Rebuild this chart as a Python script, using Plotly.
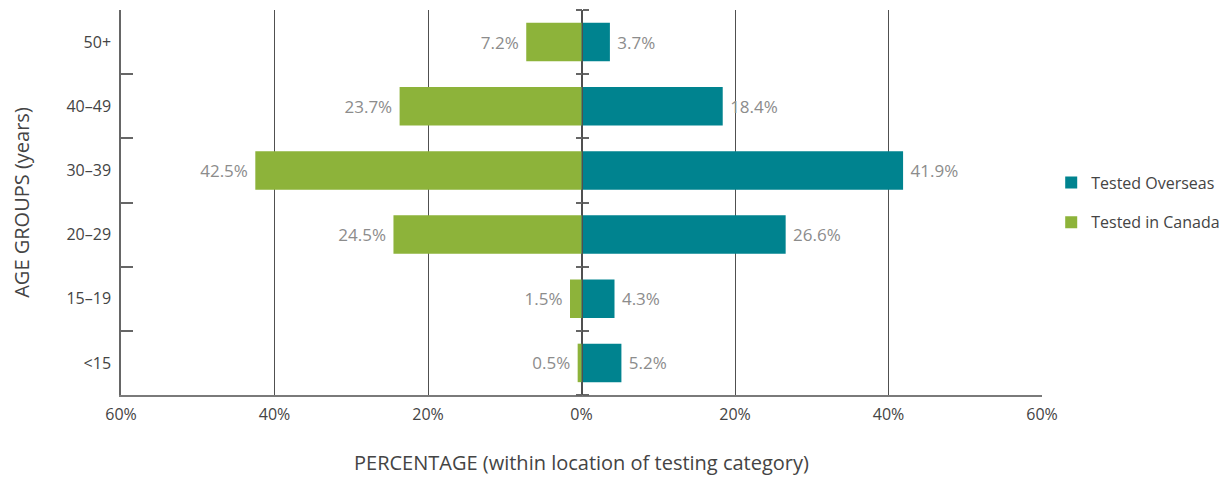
import plotly.graph_objects as go

# age groups, bottom to top
age_groups = ['<15', '15–19', '20–29', '30–39', '40–49', '50+']
tested_overseas = [5.2, 4.3, 26.6, 41.9, 18.4, 3.7]
tested_in_canada = [0.5, 1.5, 24.5, 42.5, 23.7, 7.2]

x_ticks = [-60, -40, -20, 0, 20, 40, 60]
x_tick_text = ['60%', '40%', '20%', '0%', '20%', '40%', '60%']

teal = '#00838f'
green = '#8db33a'
grid = '#505050'
font_name = 'Open Sans'
nbsp = '\u00a0'

fig = go.Figure()

fig.add_trace(go.Bar(
    y=age_groups, x=tested_overseas, orientation='h', name='Tested Overseas',
    legendgroup='overseas',
    marker=dict(color=teal, line=dict(width=0)),
    text=[f'{nbsp}{v}%' for v in tested_overseas], textposition='outside',
    textfont=dict(color='#8c8c8c', size=17, family=font_name), cliponaxis=False,
))
fig.add_trace(go.Bar(
    y=age_groups, x=[-v for v in tested_in_canada], orientation='h', name='Tested in Canada',
    legendgroup='canada',
    marker=dict(color=green, line=dict(width=0)),
    text=[f'{v}%{nbsp}' for v in tested_in_canada], textposition='outside',
    textfont=dict(color='#8c8c8c', size=17, family=font_name), cliponaxis=False,
))
# invisible helpers so the axes at zero get drawn
for ax in ['y2', 'y3']:
    fig.add_trace(go.Scatter(
        y=age_groups, x=[0] * len(age_groups), yaxis=ax, mode='none',
        showlegend=False, hoverinfo='skip',
    ))

zero_axis = dict(
    type='category', categoryarray=age_groups, range=[-0.5, len(age_groups) - 0.5],
    overlaying='y', anchor='free', position=0.5, tickson='boundaries',
    showticklabels=False, ticks='outside', ticklen=6, tickcolor='#666666', tickwidth=1.5,
    showgrid=False, zeroline=False, layer='above traces', automargin=False,
)

# page body has an 8px margin, so the figure is 8px smaller than the window
fig.update_layout(
    width=1221, height=469,
    margin=dict(l=113, r=187, t=2, b=82),
    paper_bgcolor='white', plot_bgcolor='white',
    barmode='overlay', bargap=0.4,
    font=dict(family=font_name, color='#444444', size=16),
    xaxis=dict(
        range=[-60, 60], tickvals=x_ticks, ticktext=x_tick_text,
        showgrid=True, gridcolor=grid, gridwidth=1, zeroline=False,
        showline=True, linecolor='#7a7a7a', linewidth=1.5, ticks='',
        tickfont=dict(size=16, color='#444444'), ticklabelstandoff=4, automargin=False,
        title=dict(text='PERCENTAGE (within location of testing category)',
                   font=dict(size=20, color='#444444'), standoff=32),
    ),
    yaxis=dict(
        type='category', categoryarray=age_groups, range=[-0.5, len(age_groups) - 0.5],
        tickson='boundaries', ticks='inside', ticklen=12, tickcolor='#666666', tickwidth=1.5,
        showline=True, linecolor='#666666', linewidth=1.5, showgrid=False,
        tickfont=dict(size=16, color='#444444'), ticklabelstandoff=5, automargin=False,
        title=dict(text='AGE GROUPS (years)', font=dict(size=20, color='#444444'), standoff=35),
    ),
    yaxis2=dict(zero_axis, side='left', showline=True, linecolor=grid, linewidth=1),
    yaxis3=dict(zero_axis, side='right', showline=False),
    legend=dict(
        x=1.01, y=0.5, xanchor='left', yanchor='middle',
        font=dict(size=16, color='#444444'), tracegroupgap=16, itemwidth=30,
    ),
)

fig.write_html('out.html')
